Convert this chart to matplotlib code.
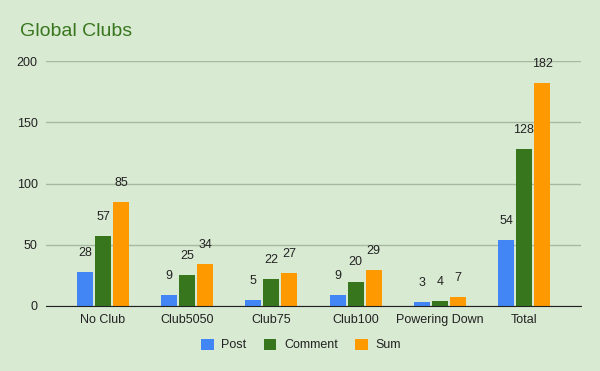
import matplotlib.pyplot as plt
import numpy as np
from matplotlib.patches import Patch

plt.rcParams['font.family'] = ['Liberation Sans', 'DejaVu Sans']

# Data
categories = ['No Club', 'Club5050', 'Club75', 'Club100', 'Powering Down', 'Total']
post = [28, 9, 5, 9, 3, 54]
comment = [57, 25, 22, 20, 4, 128]
total_sum = [85, 34, 27, 29, 7, 182]
series_names = ['Post', 'Comment', 'Sum']
colors = ['#4285f4', '#38761d', '#ff9900']
bg = '#d9ead3'

fig = plt.figure(figsize=(6, 3.71), dpi=100, facecolor=bg)
ax = fig.add_axes([46 / 600, 1 - 306 / 371, (581 - 46) / 600, (306 - 61) / 371])
ax.set_facecolor(bg)

x = np.arange(len(categories))
width = 0.19
step = 0.214
for i, (vals, col) in enumerate(zip([post, comment, total_sum], colors)):
    pos = x + (i - 1) * step
    ax.bar(pos, vals, width, color=col, zorder=3)
    for px, v in zip(pos, vals):
        ax.annotate(str(v), (px, v), xytext=(0, 9.5), textcoords='offset points',
                    ha='center', va='bottom', fontsize=9, color='#222222')

ax.set_xlim(-0.677, 5.677)
ax.set_ylim(0, 200)
ax.set_yticks([0, 50, 100, 150, 200])
ax.yaxis.grid(True, color='#a8b9a1', linewidth=1, zorder=0)
ax.set_xticks(x)
ax.set_xticklabels(categories)
ax.tick_params(axis='both', length=0, labelsize=9, colors='#222222')
ax.tick_params(axis='x', pad=6)
ax.tick_params(axis='y', pad=6)
for side in ['top', 'right', 'left']:
    ax.spines[side].set_visible(False)
ax.spines['bottom'].set_color('#222222')
ax.spines['bottom'].set_zorder(4)

fig.text(20 / 600, 1 - 32 / 371, 'Global Clubs', fontsize=14, color='#38761d',
         ha='left', va='center')

handles = [Patch(facecolor=c, label=n) for c, n in zip(colors, series_names)]
fig.legend(handles=handles, loc='center', bbox_to_anchor=(301 / 600, 1 - 345 / 371),
           ncol=3, frameon=False, fontsize=9, handlelength=1.0, handleheight=1.0,
           handletextpad=0.6, columnspacing=1.4, labelcolor='#222222')

fig.savefig('out.png', dpi=100, facecolor=bg)
